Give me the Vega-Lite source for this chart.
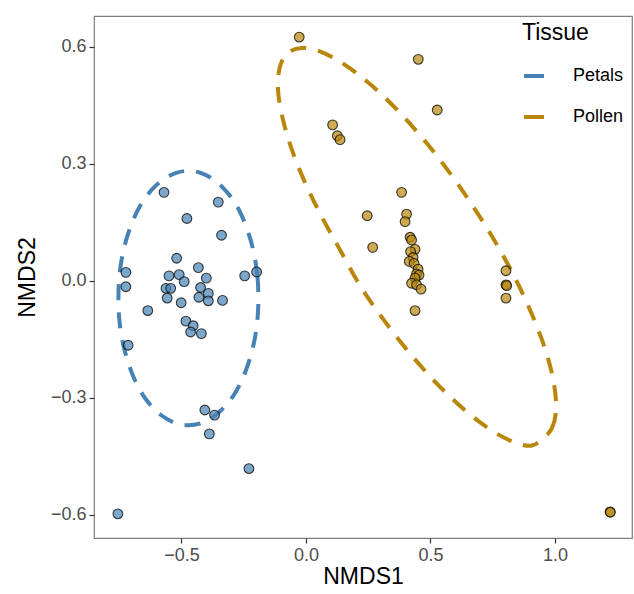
{
  "$schema": "https://vega.github.io/schema/vega-lite/v6.json",
  "width": 538,
  "height": 522,
  "autosize": "none",
  "padding": {"left": 94, "top": 16, "right": 2, "bottom": 56},
  "background": "white",
  "config": {
    "font": "Liberation Sans",
    "view": {"stroke": "#7f7f7f", "strokeWidth": 1.2},
    "axis": {
      "grid": false,
      "domain": false,
      "tickColor": "#333333",
      "tickSize": 5,
      "tickWidth": 1.2,
      "labelColor": "#4D4D4D",
      "labelFontSize": 18,
      "labelPadding": 3,
      "titleColor": "#000000",
      "titleFontSize": 23,
      "titleFontWeight": "normal"
    }
  },
  "datasets": {
    "pts": [
      {"Tissue": "Petals", "NMDS1": -0.570, "NMDS2": 0.227},
      {"Tissue": "Petals", "NMDS1": -0.352, "NMDS2": 0.202},
      {"Tissue": "Petals", "NMDS1": -0.478, "NMDS2": 0.160},
      {"Tissue": "Petals", "NMDS1": -0.339, "NMDS2": 0.117},
      {"Tissue": "Petals", "NMDS1": -0.519, "NMDS2": 0.058},
      {"Tissue": "Petals", "NMDS1": -0.723, "NMDS2": 0.022},
      {"Tissue": "Petals", "NMDS1": -0.432, "NMDS2": 0.034},
      {"Tissue": "Petals", "NMDS1": -0.198, "NMDS2": 0.023},
      {"Tissue": "Petals", "NMDS1": -0.246, "NMDS2": 0.013},
      {"Tissue": "Petals", "NMDS1": -0.550, "NMDS2": 0.013},
      {"Tissue": "Petals", "NMDS1": -0.509, "NMDS2": 0.016},
      {"Tissue": "Petals", "NMDS1": -0.400, "NMDS2": 0.007},
      {"Tissue": "Petals", "NMDS1": -0.489, "NMDS2": -0.002},
      {"Tissue": "Petals", "NMDS1": -0.723, "NMDS2": -0.015},
      {"Tissue": "Petals", "NMDS1": -0.562, "NMDS2": -0.019},
      {"Tissue": "Petals", "NMDS1": -0.543, "NMDS2": -0.019},
      {"Tissue": "Petals", "NMDS1": -0.423, "NMDS2": -0.017},
      {"Tissue": "Petals", "NMDS1": -0.392, "NMDS2": -0.032},
      {"Tissue": "Petals", "NMDS1": -0.557, "NMDS2": -0.044},
      {"Tissue": "Petals", "NMDS1": -0.430, "NMDS2": -0.042},
      {"Tissue": "Petals", "NMDS1": -0.392, "NMDS2": -0.051},
      {"Tissue": "Petals", "NMDS1": -0.335, "NMDS2": -0.050},
      {"Tissue": "Petals", "NMDS1": -0.501, "NMDS2": -0.056},
      {"Tissue": "Petals", "NMDS1": -0.635, "NMDS2": -0.076},
      {"Tissue": "Petals", "NMDS1": -0.482, "NMDS2": -0.103},
      {"Tissue": "Petals", "NMDS1": -0.453, "NMDS2": -0.115},
      {"Tissue": "Petals", "NMDS1": -0.463, "NMDS2": -0.131},
      {"Tissue": "Petals", "NMDS1": -0.420, "NMDS2": -0.135},
      {"Tissue": "Petals", "NMDS1": -0.714, "NMDS2": -0.165},
      {"Tissue": "Petals", "NMDS1": -0.406, "NMDS2": -0.331},
      {"Tissue": "Petals", "NMDS1": -0.367, "NMDS2": -0.344},
      {"Tissue": "Petals", "NMDS1": -0.388, "NMDS2": -0.392},
      {"Tissue": "Petals", "NMDS1": -0.229, "NMDS2": -0.481},
      {"Tissue": "Petals", "NMDS1": -0.755, "NMDS2": -0.597},
      {"Tissue": "Pollen", "NMDS1": -0.027, "NMDS2": 0.625},
      {"Tissue": "Pollen", "NMDS1": 0.451, "NMDS2": 0.568},
      {"Tissue": "Pollen", "NMDS1": 0.527, "NMDS2": 0.438},
      {"Tissue": "Pollen", "NMDS1": 0.107, "NMDS2": 0.400},
      {"Tissue": "Pollen", "NMDS1": 0.126, "NMDS2": 0.372},
      {"Tissue": "Pollen", "NMDS1": 0.137, "NMDS2": 0.362},
      {"Tissue": "Pollen", "NMDS1": 0.384, "NMDS2": 0.227},
      {"Tissue": "Pollen", "NMDS1": 0.246, "NMDS2": 0.167},
      {"Tissue": "Pollen", "NMDS1": 0.404, "NMDS2": 0.171},
      {"Tissue": "Pollen", "NMDS1": 0.398, "NMDS2": 0.152},
      {"Tissue": "Pollen", "NMDS1": 0.268, "NMDS2": 0.086},
      {"Tissue": "Pollen", "NMDS1": 0.418, "NMDS2": 0.112},
      {"Tissue": "Pollen", "NMDS1": 0.424, "NMDS2": 0.105},
      {"Tissue": "Pollen", "NMDS1": 0.438, "NMDS2": 0.081},
      {"Tissue": "Pollen", "NMDS1": 0.420, "NMDS2": 0.075},
      {"Tissue": "Pollen", "NMDS1": 0.430, "NMDS2": 0.060},
      {"Tissue": "Pollen", "NMDS1": 0.415, "NMDS2": 0.050},
      {"Tissue": "Pollen", "NMDS1": 0.434, "NMDS2": 0.045},
      {"Tissue": "Pollen", "NMDS1": 0.450, "NMDS2": 0.030},
      {"Tissue": "Pollen", "NMDS1": 0.444, "NMDS2": 0.018},
      {"Tissue": "Pollen", "NMDS1": 0.454, "NMDS2": 0.015},
      {"Tissue": "Pollen", "NMDS1": 0.438, "NMDS2": 0.007},
      {"Tissue": "Pollen", "NMDS1": 0.424, "NMDS2": -0.006},
      {"Tissue": "Pollen", "NMDS1": 0.444, "NMDS2": -0.010},
      {"Tissue": "Pollen", "NMDS1": 0.462, "NMDS2": -0.021},
      {"Tissue": "Pollen", "NMDS1": 0.438, "NMDS2": -0.076},
      {"Tissue": "Pollen", "NMDS1": 0.803, "NMDS2": 0.026},
      {"Tissue": "Pollen", "NMDS1": 0.803, "NMDS2": -0.010},
      {"Tissue": "Pollen", "NMDS1": 0.806, "NMDS2": -0.012},
      {"Tissue": "Pollen", "NMDS1": 0.803, "NMDS2": -0.044},
      {"Tissue": "Pollen", "NMDS1": 1.221, "NMDS2": -0.592},
      {"Tissue": "Pollen", "NMDS1": 1.222, "NMDS2": -0.593}
    ],
    "ell": [
      {"Tissue": "Petals", "i": 0, "NMDS1": -0.191, "NMDS2": -0.044},
      {"Tissue": "Petals", "i": 1, "NMDS1": -0.195, "NMDS2": 0.013},
      {"Tissue": "Petals", "i": 2, "NMDS1": -0.208, "NMDS2": 0.068},
      {"Tissue": "Petals", "i": 3, "NMDS1": -0.229, "NMDS2": 0.119},
      {"Tissue": "Petals", "i": 4, "NMDS1": -0.257, "NMDS2": 0.166},
      {"Tissue": "Petals", "i": 5, "NMDS1": -0.291, "NMDS2": 0.206},
      {"Tissue": "Petals", "i": 6, "NMDS1": -0.332, "NMDS2": 0.238},
      {"Tissue": "Petals", "i": 7, "NMDS1": -0.376, "NMDS2": 0.262},
      {"Tissue": "Petals", "i": 8, "NMDS1": -0.423, "NMDS2": 0.277},
      {"Tissue": "Petals", "i": 9, "NMDS1": -0.472, "NMDS2": 0.282},
      {"Tissue": "Petals", "i": 10, "NMDS1": -0.521, "NMDS2": 0.277},
      {"Tissue": "Petals", "i": 11, "NMDS1": -0.568, "NMDS2": 0.262},
      {"Tissue": "Petals", "i": 12, "NMDS1": -0.613, "NMDS2": 0.238},
      {"Tissue": "Petals", "i": 13, "NMDS1": -0.653, "NMDS2": 0.206},
      {"Tissue": "Petals", "i": 14, "NMDS1": -0.687, "NMDS2": 0.166},
      {"Tissue": "Petals", "i": 15, "NMDS1": -0.715, "NMDS2": 0.119},
      {"Tissue": "Petals", "i": 16, "NMDS1": -0.736, "NMDS2": 0.068},
      {"Tissue": "Petals", "i": 17, "NMDS1": -0.749, "NMDS2": 0.013},
      {"Tissue": "Petals", "i": 18, "NMDS1": -0.753, "NMDS2": -0.044},
      {"Tissue": "Petals", "i": 19, "NMDS1": -0.749, "NMDS2": -0.101},
      {"Tissue": "Petals", "i": 20, "NMDS1": -0.736, "NMDS2": -0.156},
      {"Tissue": "Petals", "i": 21, "NMDS1": -0.715, "NMDS2": -0.207},
      {"Tissue": "Petals", "i": 22, "NMDS1": -0.687, "NMDS2": -0.254},
      {"Tissue": "Petals", "i": 23, "NMDS1": -0.653, "NMDS2": -0.294},
      {"Tissue": "Petals", "i": 24, "NMDS1": -0.613, "NMDS2": -0.326},
      {"Tissue": "Petals", "i": 25, "NMDS1": -0.568, "NMDS2": -0.350},
      {"Tissue": "Petals", "i": 26, "NMDS1": -0.521, "NMDS2": -0.365},
      {"Tissue": "Petals", "i": 27, "NMDS1": -0.472, "NMDS2": -0.370},
      {"Tissue": "Petals", "i": 28, "NMDS1": -0.423, "NMDS2": -0.365},
      {"Tissue": "Petals", "i": 29, "NMDS1": -0.376, "NMDS2": -0.350},
      {"Tissue": "Petals", "i": 30, "NMDS1": -0.332, "NMDS2": -0.326},
      {"Tissue": "Petals", "i": 31, "NMDS1": -0.291, "NMDS2": -0.294},
      {"Tissue": "Petals", "i": 32, "NMDS1": -0.257, "NMDS2": -0.254},
      {"Tissue": "Petals", "i": 33, "NMDS1": -0.229, "NMDS2": -0.207},
      {"Tissue": "Petals", "i": 34, "NMDS1": -0.208, "NMDS2": -0.156},
      {"Tissue": "Petals", "i": 35, "NMDS1": -0.195, "NMDS2": -0.101},
      {"Tissue": "Pollen", "i": 0, "NMDS1": 0.955, "NMDS2": -0.402},
      {"Tissue": "Pollen", "i": 1, "NMDS1": 0.987, "NMDS2": -0.378},
      {"Tissue": "Pollen", "i": 2, "NMDS1": 1.003, "NMDS2": -0.340},
      {"Tissue": "Pollen", "i": 3, "NMDS1": 1.001, "NMDS2": -0.288},
      {"Tissue": "Pollen", "i": 4, "NMDS1": 0.983, "NMDS2": -0.225},
      {"Tissue": "Pollen", "i": 5, "NMDS1": 0.948, "NMDS2": -0.152},
      {"Tissue": "Pollen", "i": 6, "NMDS1": 0.898, "NMDS2": -0.072},
      {"Tissue": "Pollen", "i": 7, "NMDS1": 0.835, "NMDS2": 0.013},
      {"Tissue": "Pollen", "i": 8, "NMDS1": 0.759, "NMDS2": 0.101},
      {"Tissue": "Pollen", "i": 9, "NMDS1": 0.674, "NMDS2": 0.188},
      {"Tissue": "Pollen", "i": 10, "NMDS1": 0.582, "NMDS2": 0.273},
      {"Tissue": "Pollen", "i": 11, "NMDS1": 0.486, "NMDS2": 0.352},
      {"Tissue": "Pollen", "i": 12, "NMDS1": 0.389, "NMDS2": 0.423},
      {"Tissue": "Pollen", "i": 13, "NMDS1": 0.293, "NMDS2": 0.484},
      {"Tissue": "Pollen", "i": 14, "NMDS1": 0.202, "NMDS2": 0.533},
      {"Tissue": "Pollen", "i": 15, "NMDS1": 0.118, "NMDS2": 0.569},
      {"Tissue": "Pollen", "i": 16, "NMDS1": 0.045, "NMDS2": 0.591},
      {"Tissue": "Pollen", "i": 17, "NMDS1": -0.016, "NMDS2": 0.597},
      {"Tissue": "Pollen", "i": 18, "NMDS1": -0.064, "NMDS2": 0.588},
      {"Tissue": "Pollen", "i": 19, "NMDS1": -0.096, "NMDS2": 0.564},
      {"Tissue": "Pollen", "i": 20, "NMDS1": -0.111, "NMDS2": 0.525},
      {"Tissue": "Pollen", "i": 21, "NMDS1": -0.110, "NMDS2": 0.474},
      {"Tissue": "Pollen", "i": 22, "NMDS1": -0.091, "NMDS2": 0.410},
      {"Tissue": "Pollen", "i": 23, "NMDS1": -0.057, "NMDS2": 0.337},
      {"Tissue": "Pollen", "i": 24, "NMDS1": -0.007, "NMDS2": 0.257},
      {"Tissue": "Pollen", "i": 25, "NMDS1": 0.057, "NMDS2": 0.172},
      {"Tissue": "Pollen", "i": 26, "NMDS1": 0.133, "NMDS2": 0.084},
      {"Tissue": "Pollen", "i": 27, "NMDS1": 0.218, "NMDS2": -0.013},
      {"Tissue": "Pollen", "i": 28, "NMDS1": 0.310, "NMDS2": -0.098},
      {"Tissue": "Pollen", "i": 29, "NMDS1": 0.406, "NMDS2": -0.177},
      {"Tissue": "Pollen", "i": 30, "NMDS1": 0.503, "NMDS2": -0.248},
      {"Tissue": "Pollen", "i": 31, "NMDS1": 0.599, "NMDS2": -0.309},
      {"Tissue": "Pollen", "i": 32, "NMDS1": 0.690, "NMDS2": -0.358},
      {"Tissue": "Pollen", "i": 33, "NMDS1": 0.773, "NMDS2": -0.394},
      {"Tissue": "Pollen", "i": 34, "NMDS1": 0.847, "NMDS2": -0.416},
      {"Tissue": "Pollen", "i": 35, "NMDS1": 0.908, "NMDS2": -0.422}
    ]
  },
  "layer": [
    {
      "data": {"name": "ell"},
      "mark": {"type": "line", "strokeWidth": 4, "strokeDash": [16, 12], "interpolate": "cardinal-closed", "clip": true},
      "encoding": {
        "x": {"field": "NMDS1", "type": "quantitative", "scale": {"domain": [-0.851, 1.309], "nice": false, "zero": false},
              "axis": {"values": [-0.5, 0, 0.5, 1], "format": ".1f", "title": "NMDS1", "titlePadding": 1}},
        "y": {"field": "NMDS2", "type": "quantitative", "scale": {"domain": [-0.659, 0.679], "nice": false, "zero": false},
              "axis": {"values": [-0.6, -0.3, 0, 0.3, 0.6], "format": ".1f", "title": "NMDS2", "titlePadding": 11}},
        "color": {
          "field": "Tissue", "type": "nominal",
          "scale": {"domain": ["Petals", "Pollen"], "range": ["#4682B4", "#B8860B"]},
          "legend": {
            "title": "Tissue",
            "orient": "none",
            "legendX": 428,
            "legendY": 6,
            "padding": 0,
            "titleFontSize": 23,
            "titleFontWeight": "normal",
            "titleColor": "#000000",
            "titlePadding": 19,
            "labelFontSize": 18,
            "labelColor": "#000000",
            "labelOffset": 27,
            "rowPadding": 20,
            "symbolType": "stroke",
            "symbolStrokeWidth": 4,
            "symbolSize": 400,
            "symbolDash": []
          }
        },
        "order": {"field": "i", "type": "quantitative"}
      }
    },
    {
      "data": {"name": "pts"},
      "mark": {"type": "point", "shape": "circle", "filled": false, "size": 95, "fillOpacity": 0.7, "stroke": "#000000", "strokeOpacity": 0.75, "strokeWidth": 1.1},
      "encoding": {
        "x": {"field": "NMDS1", "type": "quantitative"},
        "y": {"field": "NMDS2", "type": "quantitative"},
        "fill": {"field": "Tissue", "type": "nominal", "scale": {"domain": ["Petals", "Pollen"], "range": ["#4682B4", "#B8860B"]}, "legend": null}
      }
    }
  ]
}
